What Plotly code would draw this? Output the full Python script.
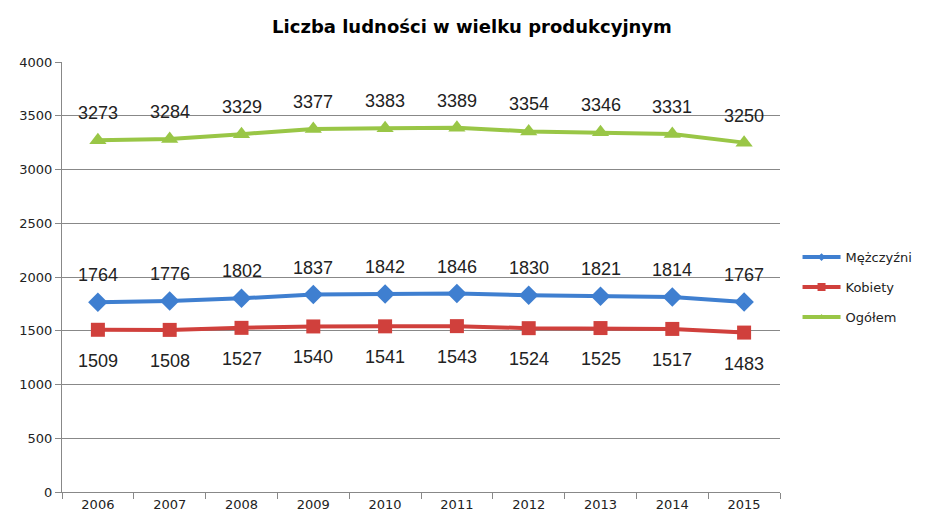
import plotly.graph_objects as go

years = ["2006", "2007", "2008", "2009", "2010", "2011", "2012", "2013", "2014", "2015"]
mezczyzni = [1764, 1776, 1802, 1837, 1842, 1846, 1830, 1821, 1814, 1767]
kobiety = [1509, 1508, 1527, 1540, 1541, 1543, 1524, 1525, 1517, 1483]
ogolem = [3273, 3284, 3329, 3377, 3383, 3389, 3354, 3346, 3331, 3250]
y_ticks = [0, 500, 1000, 1500, 2000, 2500, 3000, 3500, 4000]

series = [
    ("Mężczyźni", mezczyzni, "#3F7FD0", "diamond", 15, 6, 1),
    ("Kobiety", kobiety, "#D0403C", "square", 14, 8, -1),
    ("Ogółem", ogolem, "#99C646", "triangle-up", 15, 6, 1),
]

fig = go.Figure()
annotations = []
for gi, (name, vals, color, sym, msize, lsize, side) in enumerate(series):
    fig.add_trace(go.Scatter(
        x=years, y=vals, name=name, mode="lines+markers", showlegend=False,
        line=dict(color=color, width=4),
        marker=dict(symbol=sym, size=msize, color=color),
    ))
    # legend entry with smaller marker, like the original
    fig.add_trace(go.Scatter(
        x=[None], y=[None], name=name, mode="lines+markers", legendgroup=f"g{gi}",
        line=dict(color=color, width=4),
        marker=dict(symbol=sym, size=lsize, color=color),
    ))
    for i, v in enumerate(vals):
        annotations.append(dict(
            x=i, y=v, xref="x", yref="y", text=str(v), showarrow=False,
            yshift=27 if side > 0 else -31,
            font=dict(family="Liberation Sans, Arial", size=18, color="#222222"),
        ))

fig.update_layout(
    width=917, height=515,
    margin=dict(l=54, r=145, t=54, b=31),
    paper_bgcolor="white", plot_bgcolor="white",
    title=dict(text="<b>Liczba ludności w wielku produkcyjnym</b>",
               x=0.506, xanchor="center", y=0.963, yanchor="middle",
               font=dict(family="DejaVu Sans", size=18, color="black")),
    annotations=annotations,
    showlegend=True,
    legend=dict(xref="container", yref="container", x=0.861, y=0.458,
                xanchor="left", yanchor="middle",
                font=dict(family="DejaVu Sans", size=13, color="#222222"),
                tracegroupgap=10, itemwidth=38),
    xaxis=dict(
        type="category", showgrid=False, showline=True, linecolor="#888888", linewidth=1,
        ticks="outside", ticklen=6, tickcolor="#888888", tickson="boundaries",
        tickfont=dict(family="DejaVu Sans", size=13, color="#222222"),
        range=[-0.5, 9.5],
    ),
    yaxis=dict(
        range=[0, 4000], tickvals=y_ticks, showgrid=True, gridcolor="#888888", gridwidth=1,
        showline=True, linecolor="#888888", linewidth=1,
        ticks="outside", ticklen=6, tickcolor="#888888", zeroline=False,
        tickfont=dict(family="DejaVu Sans", size=13, color="#222222"),
    ),
)

fig.write_html("out.html")
